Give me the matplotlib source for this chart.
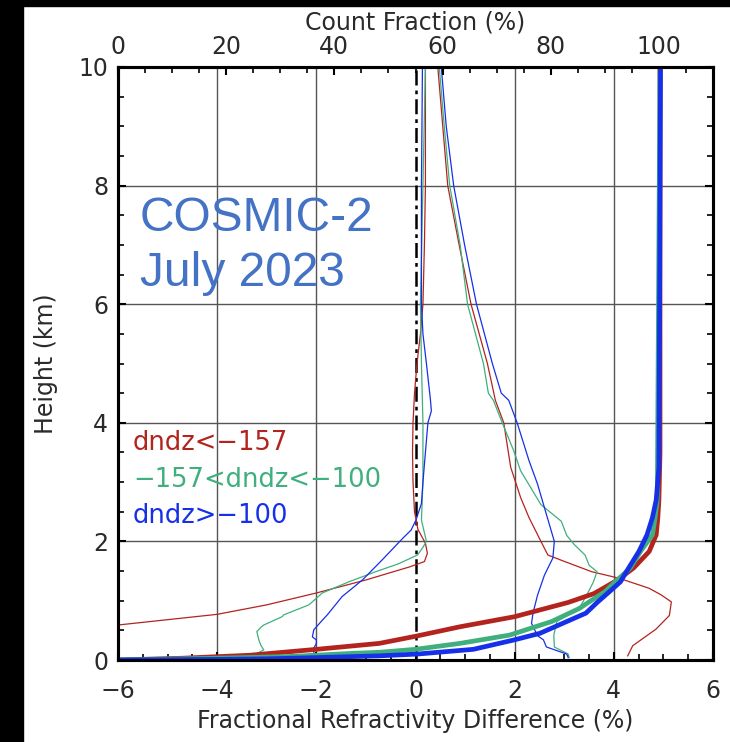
import matplotlib
matplotlib.use("Agg")
import matplotlib.pyplot as plt
from matplotlib.ticker import MultipleLocator
from matplotlib.patches import Rectangle

# ---------------- data ----------------
# thin lines: fractional refractivity difference (%) vs height (km)
red_mean_h = [0.50, 0.59, 0.77, 0.93, 1.13, 1.35, 1.50, 1.57, 1.66, 1.80, 1.97, 2.2, 2.5, 3.0, 3.5, 4.0, 4.5, 5.0, 5.5, 6.0, 7.0, 8.0, 9.0, 10.0]
red_mean_v = [-7.0, -6.0, -4.0, -3.0, -2.0, -1.0, -0.4, -0.12, 0.18, 0.24, 0.20, 0.05, -0.02, -0.05, -0.06, -0.05, -0.02, 0.03, 0.10, 0.15, 0.18, 0.20, 0.20, 0.20]

green_mean_h = [0.03, 0.06, 0.11, 0.17, 0.25, 0.34, 0.48, 0.55, 0.59, 0.73, 0.76, 0.93, 1.13, 1.32, 1.49, 1.62, 1.77, 1.90, 2.0, 2.36, 3.0, 4.0, 5.0, 6.0, 8.0, 10.0]
green_mean_v = [-3.35, -3.26, -3.20, -3.06, -3.12, -3.16, -3.20, -3.12, -3.06, -2.69, -2.66, -2.15, -1.88, -1.34, -0.80, -0.35, 0.04, 0.15, 0.22, 0.12, 0.15, 0.15, 0.12, 0.10, 0.15, 0.20]

blue_mean_h = [0.02, 0.06, 0.11, 0.20, 0.28, 0.34, 0.39, 0.51, 0.67, 0.76, 1.07, 1.35, 1.69, 2.05, 2.19, 2.36, 2.64, 3.0, 3.5, 4.0, 4.2, 4.4, 5.0, 5.5, 6.0, 8.0, 10.0]
blue_mean_v = [-2.50, -2.33, -2.05, -2.05, -2.0, -2.0, -2.08, -2.05, -1.88, -1.78, -1.48, -1.07, -0.67, -0.26, -0.09, 0.01, 0.12, 0.15, 0.20, 0.25, 0.32, 0.30, 0.22, 0.15, 0.12, 0.12, 0.14]

red_std_h = [0.07, 0.24, 0.52, 0.75, 0.98, 1.10, 1.21, 1.38, 1.49, 1.66, 1.77, 2.0, 2.40, 2.74, 3.25, 4.0, 4.38, 4.5, 5.0, 6.0, 7.0, 8.0, 9.0, 10.0]
red_std_v = [4.28, 4.38, 4.85, 5.12, 5.16, 4.95, 4.71, 4.10, 3.55, 3.01, 2.67, 2.53, 2.29, 2.12, 1.92, 1.78, 1.61, 1.58, 1.45, 1.12, 0.88, 0.65, 0.55, 0.45]

green_std_h = [0.04, 0.10, 0.22, 0.42, 0.65, 0.87, 1.09, 1.32, 1.49, 1.60, 1.77, 1.94, 2.10, 2.34, 2.62, 3.19, 3.53, 4.0, 4.38, 4.5, 5.0, 6.0, 7.0, 8.0, 9.0, 10.0]
green_std_v = [3.10, 3.08, 2.80, 2.79, 2.85, 3.30, 3.45, 3.59, 3.66, 3.50, 3.42, 3.21, 3.05, 2.94, 2.53, 2.12, 1.98, 1.75, 1.57, 1.47, 1.37, 1.05, 0.90, 0.69, 0.58, 0.48]

blue_std_h = [0.04, 0.10, 0.22, 0.34, 0.41, 0.62, 0.79, 1.09, 1.43, 1.72, 2.0, 2.57, 2.97, 3.36, 4.0, 4.38, 4.5, 5.0, 6.0, 7.0, 8.0, 9.0, 10.0]
blue_std_v = [3.08, 3.05, 2.64, 2.58, 2.46, 2.34, 2.37, 2.46, 2.60, 2.77, 2.80, 2.60, 2.46, 2.29, 2.05, 1.88, 1.73, 1.55, 1.23, 0.99, 0.77, 0.62, 0.52]

# thick lines: cumulative count fraction (%) vs height (km), top axis
red_cf_h = [0.0, 0.03, 0.08, 0.18, 0.28, 0.40, 0.56, 0.73, 0.97, 1.12, 1.34, 1.55, 1.83, 2.11, 2.4, 2.7, 3.5, 10.0]
red_cf = [0.0, 11.9, 24.3, 36.7, 48.3, 55.0, 63.2, 73.3, 83.2, 88.0, 92.2, 95.3, 98.2, 99.5, 99.8, 100.0, 100.2, 100.2]

green_cf_h = [0.0, 0.03, 0.06, 0.11, 0.13, 0.18, 0.28, 0.42, 0.65, 0.87, 0.98, 1.15, 1.30, 1.55, 1.83, 2.11, 2.4, 2.7, 10.0]
green_cf = [0.0, 18.3, 32.1, 42.9, 48.3, 55.0, 63.2, 72.4, 80.2, 85.3, 87.1, 90.0, 91.7, 94.7, 96.6, 98.8, 99.3, 99.7, 100.2]

blue_cf_h = [0.0, 0.01, 0.02, 0.04, 0.07, 0.10, 0.18, 0.34, 0.45, 0.79, 0.98, 1.18, 1.32, 1.55, 1.83, 2.11, 2.4, 2.7, 3.25, 10.0]
blue_cf = [0.0, 18.3, 27.5, 36.7, 48.3, 55.3, 65.7, 73.3, 78.0, 86.5, 88.7, 91.2, 92.9, 94.4, 96.3, 97.8, 98.8, 99.5, 100.0, 100.3]

legend_labels = ["dndz<\u2212157", "\u2212157<dndz<\u2212100", "dndz>\u2212100"]
annotation_lines = ["COSMIC-2", "July 2023"]

RED = "#B3241E"
GREEN = "#3FAF7E"
BLUE = "#1530E8"
TXT = "#2a2a2a"

# ---------------- figure ----------------
plt.rcParams["font.family"] = ["DejaVu Sans"]
fig = plt.figure(figsize=(7.30, 7.42), dpi=100)
fig.patch.set_facecolor("white")
fig.patches.append(Rectangle((0, 0), 23 / 730, 1, transform=fig.transFigure, color="black", zorder=-10))
fig.patches.append(Rectangle((0, 1 - 6 / 742), 1, 6 / 742, transform=fig.transFigure, color="black", zorder=-10))

ax = fig.add_axes([118 / 730, 1 - 660 / 742, 595 / 730, 593 / 742])
ax.set_xlim(-6, 6)
ax.set_ylim(0, 10)

for xv in [-4, -2, 2, 4]:
    ax.axvline(xv, color="#555555", lw=1.0, zorder=1)
for yv in [2, 4, 6, 8]:
    ax.axhline(yv, color="#555555", lw=1.0, zorder=1)
ax.axvline(0, color="black", lw=1.8, ls=(0, (6, 2, 1.5, 2)), zorder=2)

thin = 0.9
ax.plot(red_mean_v, red_mean_h, color=RED, lw=thin, zorder=3)
ax.plot(green_mean_v, green_mean_h, color=GREEN, lw=thin, zorder=3)
ax.plot(blue_mean_v, blue_mean_h, color=BLUE, lw=thin, zorder=3)
ax.plot(red_std_v, red_std_h, color=RED, lw=thin, zorder=3)
ax.plot(green_std_v, green_std_h, color=GREEN, lw=thin, zorder=3)
ax.plot(blue_std_v, blue_std_h, color=BLUE, lw=thin, zorder=3)

ax.xaxis.set_major_locator(MultipleLocator(2))
ax.xaxis.set_minor_locator(MultipleLocator(0.5))
ax.yaxis.set_major_locator(MultipleLocator(2))
ax.yaxis.set_minor_locator(MultipleLocator(0.5))
ax.tick_params(which="both", direction="in", top=False, right=True, width=1.5, colors="black")
ax.tick_params(which="major", length=6)
ax.tick_params(which="minor", length=4, width=1.2)
ax.tick_params(axis="x", labelsize=17, pad=14, labelcolor=TXT)
ax.tick_params(axis="y", labelsize=17, pad=7, labelcolor=TXT)
ax.set_xlabel("Fractional Refractivity Difference (%)", fontsize=17, color=TXT)
ax.xaxis.set_label_coords(0.5, -0.082)
ax.set_ylabel("Height (km)", fontsize=17, color=TXT)
ax.yaxis.set_label_coords(-0.10, 0.5)
for s in ax.spines.values():
    s.set_linewidth(2.2)

# top axis
ax2 = ax.twiny()
ax2.set_xlim(0, 110)
ax2.plot(red_cf, red_cf_h, color=RED, lw=3.4, solid_joinstyle="round")
ax2.plot(green_cf, green_cf_h, color=GREEN, lw=3.4, solid_joinstyle="round")
ax2.plot(blue_cf, blue_cf_h, color=BLUE, lw=3.4, solid_joinstyle="round")
ax2.xaxis.set_major_locator(MultipleLocator(20))
ax2.xaxis.set_minor_locator(MultipleLocator(5))
ax2.tick_params(which="both", direction="in", width=1.5)
ax2.tick_params(which="major", length=6)
ax2.tick_params(which="minor", length=4, width=1.2)
ax2.tick_params(axis="x", labelsize=17, pad=6, labelcolor=TXT)
ax2.set_xticks([0, 20, 40, 60, 80, 100])
ax2.set_xlabel("Count Fraction (%)", fontsize=17, color=TXT, labelpad=4)
for s in ax2.spines.values():
    s.set_linewidth(2.2)
ax2.set_ylim(0, 10)

# legend text
for lab, col, yf in zip(legend_labels, [RED, GREEN, BLUE], [0.366, 0.3035, 0.243]):
    ax2.text(0.025, yf, lab, color=col, fontsize=18.5, transform=ax2.transAxes, va="center", ha="left")

for line, yf in zip(annotation_lines, [0.782, 0.690]):
    ax2.text(0.037, yf, line, color="#4472C4", fontsize=34.5, family="Liberation Sans",
             transform=ax2.transAxes, va="top", ha="left")

fig.savefig("out.png", dpi=100)
